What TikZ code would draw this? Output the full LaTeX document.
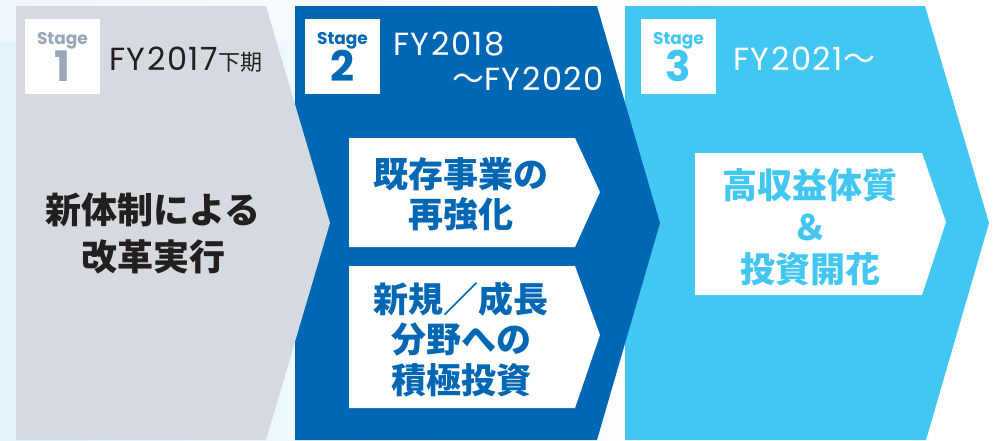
\documentclass[tikz,border=0pt]{standalone}
\usepackage{fontspec}
\setmainfont{Poppins}
\newfontfamily\fyfont{Poppins}[LetterSpace=5]
\newfontfamily\jp{Noto Sans CJK JP}
\definecolor{bgblue}{HTML}{E2F3FC}
\definecolor{sone}{HTML}{D5DAE0}
\definecolor{stwo}{HTML}{0067B4}
\definecolor{sthree}{HTML}{42C7F3}
\definecolor{gtext}{HTML}{98A7B7}
\definecolor{dtext}{HTML}{231F20}
\tikzset{
  stagelbl/.style={font=\bfseries\fontsize{17}{17}\selectfont, inner sep=0pt},
  stagenum/.style={font=\bfseries\fontsize{42}{42}\selectfont, inner sep=0pt},
  stagebox/.style={fill=white, minimum width=75pt, minimum height=75pt, inner sep=0pt},
  fytext/.style={font=\fyfont\fontsize{32}{35}\selectfont, inner sep=0pt, anchor=base west},
  jptext/.style={align=center, inner sep=0pt}
}
\begin{document}
\begin{tikzpicture}[x=1pt,y=-1pt]
\useasboundingbox (0,0) rectangle (996,440);
\fill[white] (0,0) rectangle (996,440);
\shade[left color=bgblue, right color=white] (0,0) rectangle (720,440);
\shade[top color=white, bottom color=white, opacity=0.4] (0,0) rectangle (720,40);
% stage 3
\fill[sthree] (625,6) -- (925,6) -- (989,223) -- (926,440) -- (625,440) -- cycle;
% stage 2
\fill[stwo] (295,6) -- (597,6) -- (660,223) -- (597,440) -- (295,440) -- cycle;
% stage 1
\fill[sone] (16,6) -- (266,6) -- (330,223) -- (266,440) -- (16,440) -- cycle;

% stage boxes
\node[stagebox] (b1) at (62.5,56.5) {};
\node[stagebox] (b2) at (342.5,56.5) {};
\node[stagebox] (b3) at (678.5,56.5) {};
\node[stagelbl, text=gtext, anchor=base] (l1) at (62.5,44) {Stage};
\node[stagenum, text=gtext, anchor=base] (n1) at (62.5,81) {1};
\node[stagelbl, text=stwo, anchor=base] (l2) at (342.5,44) {Stage};
\node[stagenum, text=stwo, anchor=base] (n2) at (342.5,81) {2};
\node[stagelbl, text=sthree, anchor=base] (l3) at (678.5,44) {Stage};
\node[stagenum, text=sthree, anchor=base] (n3) at (678.5,81) {3};

% period texts
\node[fytext, text=dtext] (fy1) at (109,70) {FY2017{\jp\fontsize{22}{22}\selectfont 下期}};
\node[fytext, text=white, align=left] (fy2) at (393,90) {FY2018\\\hspace*{59pt}{\jp ～}FY2020};
\node[fytext, text=white] (fy3) at (733,70) {FY2021{\jp ～}};

% stage 1 text
\node[jptext, text=dtext, font=\jp\bfseries\fontsize{36}{47}\selectfont] (t1) at (153,233) {新体制による\\改革実行};

% stage 2 arrows
\fill[white] (349,138) -- (575,138) -- (600,192) -- (575,247) -- (349,247) -- cycle;
\fill[white] (349,266) -- (575,266) -- (600,335) -- (575,408) -- (349,408) -- cycle;
\node[jptext, text=stwo, font=\jp\bfseries\fontsize{35}{40.5}\selectfont] (t2a) at (461,194) {既存事業の\\再強化};
\node[jptext, text=stwo, font=\jp\bfseries\fontsize{35}{40.5}\selectfont] (t2b) at (461,339) {新規／成長\\分野への\\積極投資};

% stage 3 arrow
\fill[white] (695,153) -- (922,153) -- (946,222) -- (922,295) -- (695,295) -- cycle;
\node[jptext, text=sthree, font=\jp\bfseries\fontsize{35}{42}\selectfont] (t3) at (810,227) {高収益体質\\＆\\投資開花};
\end{tikzpicture}
\end{document}
